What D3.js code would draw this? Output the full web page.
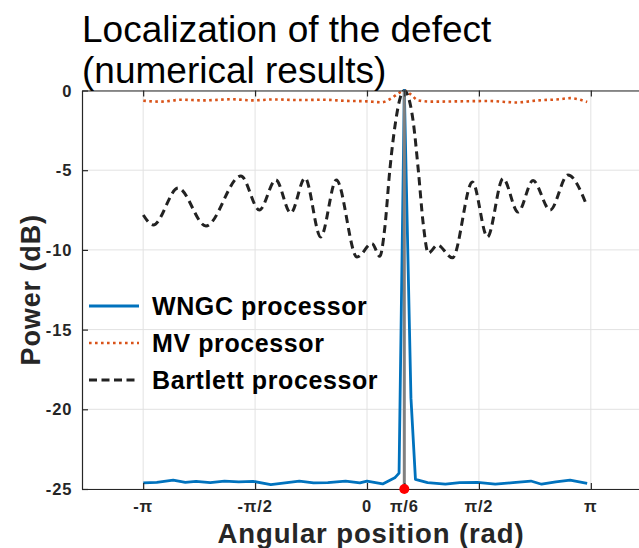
<!DOCTYPE html>
<html>
<head>
<meta charset="utf-8">
<script src="https://cdn.jsdelivr.net/npm/d3@7"></script>
<style>
html,body{margin:0;padding:0;background:#fff;overflow:hidden;}
svg{display:block;font-family:"Liberation Sans",Arial,Helvetica,sans-serif;}
</style>
</head>
<body>
<svg id="chart" width="639" height="548"></svg>
<script>
// ---- data (angle in rad, power in dB) ----
const titleLines = ["Localization of the defect", "(numerical results)"];
const xTickValues = [-Math.PI, -Math.PI/2, 0, Math.PI/6, Math.PI/2, Math.PI];
const xTickLabels = ["-\u03c0", "-\u03c0/2", "0", "\u03c0/6", "\u03c0/2", "\u03c0"];
const yTickValues = [0, -5, -10, -15, -20, -25];
const yTickLabels = ["0", "-5", "-10", "-15", "-20", "-25"];
const seriesNames = ["WNGC processor", "MV processor", "Bartlett processor"];
const defectAngle = Math.PI / 6;

const wngcX = [-3.14,-2.95,-2.72,-2.55,-2.4,-2.2,-2.0,-1.8,-1.6,-1.35,-1.15,-0.95,-0.75,-0.55,-0.3,-0.1,0.0,0.22,0.39,0.45,0.524,0.617,0.68,0.85,1.1,1.3,1.55,1.8,2.05,2.3,2.45,2.65,2.85,3.09];
const wngcY = [-24.62,-24.58,-24.45,-24.58,-24.52,-24.6,-24.5,-24.55,-24.52,-24.72,-24.62,-24.5,-24.62,-24.6,-24.5,-24.62,-24.5,-24.68,-24.3,-24.0,0,-19.3,-24.4,-24.6,-24.7,-24.6,-24.58,-24.7,-24.6,-24.5,-24.7,-24.55,-24.45,-24.65];

const mvX = [-3.14,-2.9,-2.6,-2.3,-1.9,-1.6,-1.3,-0.95,-0.6,-0.3,0.0,0.2,0.32,0.45,0.524,0.6,0.72,0.9,1.3,1.7,2.1,2.4,2.7,2.85,3.09];
const mvY = [-0.64,-0.70,-0.58,-0.62,-0.55,-0.62,-0.56,-0.60,-0.58,-0.65,-0.68,-0.74,-0.55,-0.15,0,-0.2,-0.62,-0.70,-0.68,-0.66,-0.75,-0.62,-0.55,-0.48,-0.72];

const bartX = [-3.14,-3.00,-2.65,-2.26,-1.77,-1.51,-1.28,-1.07,-0.87,-0.65,-0.43,-0.14,0.07,0.18,0.25,0.32,0.40,0.47,0.524,0.58,0.65,0.72,0.79,0.86,0.99,1.20,1.48,1.69,1.91,2.12,2.33,2.57,2.82,3.09];
const bartY = [-7.81,-8.44,-6.12,-8.50,-5.36,-7.50,-5.61,-7.69,-5.49,-9.19,-5.61,-10.45,-9.6,-10.4,-8.6,-5.0,-2.0,-0.4,0,-0.4,-2.0,-5.0,-8.4,-10.2,-9.7,-10.5,-5.74,-9.19,-5.52,-7.63,-5.65,-7.5,-5.3,-7.28];

// ---- layout ----
const svg = d3.select("#chart");
const mLeft = 82, mRight = 652, mTop = 90.5, mBottom = 489;
const x = d3.scaleLinear().domain([-4, 4]).range([mLeft, mRight]);
const y = d3.scaleLinear().domain([-25, 0]).range([mBottom, mTop]);
const axisColor = "#262626";

// grid
const grid = svg.append("g");
grid.selectAll("line.gx").data(xTickValues).join("line")
  .attr("x1", d => x(d)).attr("x2", d => x(d)).attr("y1", mTop).attr("y2", mBottom)
  .attr("stroke", "#e2e2e2").attr("stroke-width", 1);
grid.selectAll("line.gy").data(yTickValues).join("line")
  .attr("x1", mLeft).attr("x2", mRight).attr("y1", d => y(d)).attr("y2", d => y(d))
  .attr("stroke", "#e2e2e2").attr("stroke-width", 1);

// series
const toPts = (xs, ys) => xs.map((v, i) => [v, ys[i]]);
const lineLin = d3.line().x(d => x(d[0])).y(d => y(d[1]));
const lineSmooth = d3.line().x(d => x(d[0])).y(d => y(d[1])).curve(d3.curveMonotoneX);

svg.append("path").datum(toPts(bartX, bartY)).attr("d", lineSmooth)
  .attr("fill", "none").attr("stroke", "#222").attr("stroke-width", 3)
  .attr("stroke-dasharray", "8,5");
svg.append("path").datum(toPts(mvX, mvY)).attr("d", lineSmooth)
  .attr("fill", "none").attr("stroke", "#D95319").attr("stroke-width", 2.6)
  .attr("stroke-dasharray", "2.6,3.4");
svg.append("path").datum(toPts(wngcX, wngcY)).attr("d", lineLin)
  .attr("fill", "none").attr("stroke", "#0072BD").attr("stroke-width", 2.8)
  .attr("stroke-linejoin", "round");

// defect marker line
svg.append("line").attr("x1", x(defectAngle)).attr("x2", x(defectAngle))
  .attr("y1", y(-25)).attr("y2", y(0))
  .attr("stroke", "#808080").attr("stroke-width", 3);

// axes
const xAxisB = d3.axisBottom(x).tickValues(xTickValues).tickSizeInner(-6).tickSizeOuter(0).tickFormat("");
const xAxisT = d3.axisTop(x).tickValues(xTickValues).tickSizeInner(-6).tickSizeOuter(0).tickFormat("");
const yAxisL = d3.axisLeft(y).tickValues(yTickValues).tickSizeInner(-6).tickSizeOuter(0).tickFormat("");
function styleAxis(g){ g.select(".domain").attr("stroke", axisColor).attr("stroke-width", 1.2);
  g.selectAll(".tick line").attr("stroke", axisColor).attr("stroke-width", 1.2); }
svg.append("g").attr("transform", `translate(0,${mBottom})`).call(xAxisB).call(styleAxis);
svg.append("g").attr("transform", `translate(0,${mTop})`).call(xAxisT).call(styleAxis);
svg.append("g").attr("transform", `translate(${mLeft},0)`).call(yAxisL).call(styleAxis);

svg.append("circle").attr("cx", x(defectAngle)).attr("cy", y(-25)).attr("r", 5).attr("fill", "#ff0000");

// tick labels
svg.selectAll("text.xt").data(xTickValues).join("text")
  .attr("x", (d) => x(d)).attr("y", 512).attr("text-anchor", "middle")
  .attr("font-size", 16.5).attr("font-weight", "bold").attr("letter-spacing", 0.8)
  .attr("fill", axisColor).text((d, i) => xTickLabels[i]);
svg.selectAll("text.yt").data(yTickValues).join("text")
  .attr("x", 72.5).attr("y", d => y(d) + 6).attr("text-anchor", "end")
  .attr("font-size", 16.5).attr("font-weight", "bold").attr("letter-spacing", 1)
  .attr("fill", axisColor).text((d, i) => yTickLabels[i]);

// axis labels
svg.append("text").attr("x", (mLeft + mRight) / 2 + 4).attr("y", 543).attr("text-anchor", "middle")
  .attr("font-size", 27.5).attr("font-weight", "bold").attr("letter-spacing", 0.9)
  .attr("fill", axisColor).text("Angular position (rad)");
svg.append("text").attr("transform", `translate(40,${(mTop + mBottom) / 2}) rotate(-90)`)
  .attr("text-anchor", "middle")
  .attr("font-size", 27).attr("font-weight", "bold").attr("letter-spacing", 0.9)
  .attr("fill", axisColor).text("Power (dB)");

// title
svg.selectAll("text.title").data(titleLines).join("text")
  .attr("x", 82).attr("y", (d, i) => 42 + i * 41)
  .attr("font-size", 37).attr("fill", "#000").text(d => d);

// legend
const legStyles = [
  {stroke: "#0072BD", dash: null, w: 2.8},
  {stroke: "#D95319", dash: "2.6,3.4", w: 2.6},
  {stroke: "#222", dash: "8,4.5", w: 3}
];
const leg = svg.append("g");
seriesNames.forEach((name, i) => {
  const cy = 306 + i * 37;
  const s = legStyles[i];
  leg.append("line").attr("x1", 89).attr("x2", 139).attr("y1", cy).attr("y2", cy)
    .attr("stroke", s.stroke).attr("stroke-width", s.w).attr("stroke-dasharray", s.dash);
  leg.append("text").attr("x", 152).attr("y", cy + 9)
    .attr("font-size", 25).attr("font-weight", "bold").attr("letter-spacing", 0.6)
    .attr("fill", "#000").text(name);
});
</script>
</body>
</html>
